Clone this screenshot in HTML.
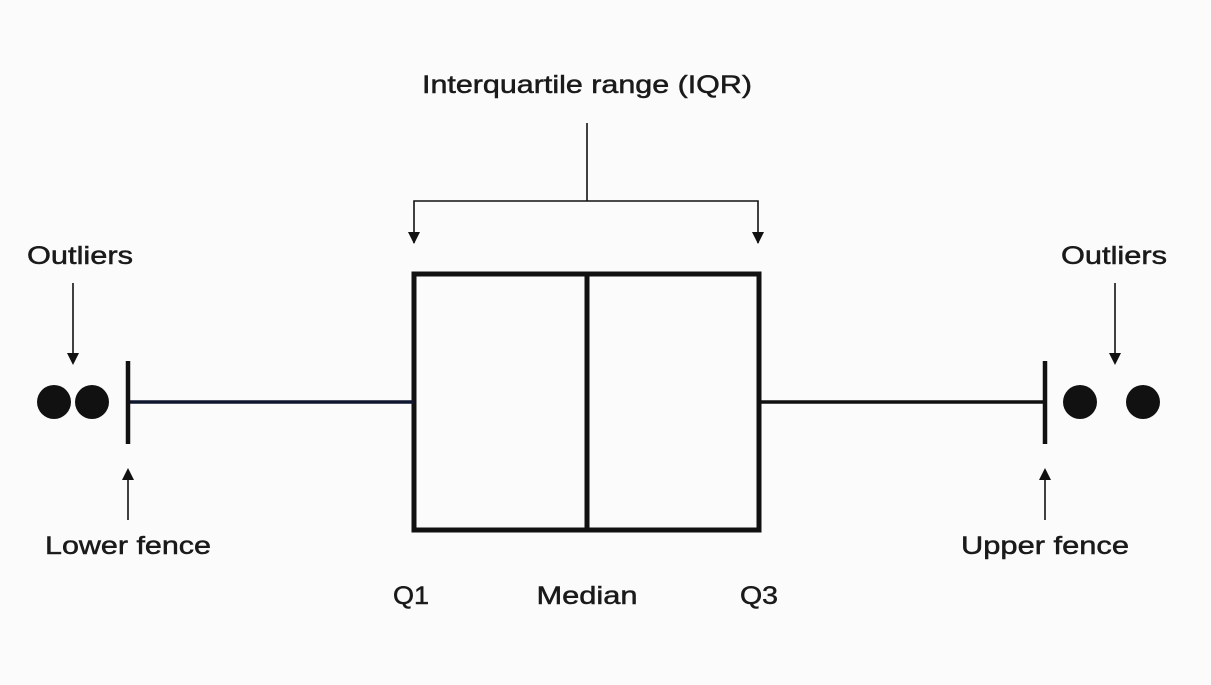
<!DOCTYPE html>
<html><head><meta charset="utf-8"><style>
html,body{margin:0;padding:0;background:#fbfbfb;}
svg{display:block;}
text{font-family:"Liberation Sans",sans-serif;font-size:25px;fill:#1a1a1a;stroke:#1a1a1a;stroke-width:0.5;text-anchor:middle;}
</style></head><body>
<svg width="1211" height="685" viewBox="0 0 1211 685">
<rect width="1211" height="685" fill="#fbfbfb"/>
<text x="587" y="93" textLength="330" lengthAdjust="spacingAndGlyphs">Interquartile range (IQR)</text>
<line x1="587" y1="123" x2="587" y2="201" stroke="#111" stroke-width="1.6"/>
<polyline points="414,243 414,201 758,201 758,243" fill="none" stroke="#111" stroke-width="1.6"/>
<path d="M408,232 L420,232 L414,244 Z" fill="#111"/>
<path d="M752,232 L764,232 L758,244 Z" fill="#111"/>
<rect x="414" y="274" width="345" height="256" fill="none" stroke="#111" stroke-width="5"/>
<line x1="587" y1="274" x2="587" y2="530" stroke="#111" stroke-width="5"/>
<line x1="128" y1="402" x2="414" y2="402" stroke="#0f1630" stroke-width="3.5"/>
<line x1="759" y1="402" x2="1045" y2="402" stroke="#111" stroke-width="3.5"/>
<line x1="128" y1="361" x2="128" y2="444" stroke="#111" stroke-width="4.5"/>
<line x1="1045" y1="361" x2="1045" y2="444" stroke="#111" stroke-width="4.5"/>
<circle cx="54" cy="402" r="17" fill="#111"/>
<circle cx="92" cy="402" r="17" fill="#111"/>
<circle cx="1080" cy="402" r="17" fill="#111"/>
<circle cx="1143" cy="402" r="17" fill="#111"/>
<text x="80" y="264" textLength="106" lengthAdjust="spacingAndGlyphs">Outliers</text>
<text x="1114" y="264" textLength="106" lengthAdjust="spacingAndGlyphs">Outliers</text>
<line x1="73" y1="283" x2="73" y2="355" stroke="#111" stroke-width="1.6"/>
<path d="M67,353 L79,353 L73,365 Z" fill="#111"/>
<line x1="1115" y1="283" x2="1115" y2="355" stroke="#111" stroke-width="1.6"/>
<path d="M1109,353 L1121,353 L1115,365 Z" fill="#111"/>
<line x1="128" y1="520" x2="128" y2="478" stroke="#111" stroke-width="1.6"/>
<path d="M122,480 L134,480 L128,468 Z" fill="#111"/>
<line x1="1045" y1="520" x2="1045" y2="478" stroke="#111" stroke-width="1.6"/>
<path d="M1039,480 L1051,480 L1045,468 Z" fill="#111"/>
<text x="128" y="554" textLength="166" lengthAdjust="spacingAndGlyphs">Lower fence</text>
<text x="1045" y="554" textLength="168" lengthAdjust="spacingAndGlyphs">Upper fence</text>
<text x="411" y="604" textLength="36" lengthAdjust="spacingAndGlyphs">Q1</text>
<text x="587" y="604" textLength="101" lengthAdjust="spacingAndGlyphs">Median</text>
<text x="759" y="604" textLength="38" lengthAdjust="spacingAndGlyphs">Q3</text>
</svg>
</body></html>
